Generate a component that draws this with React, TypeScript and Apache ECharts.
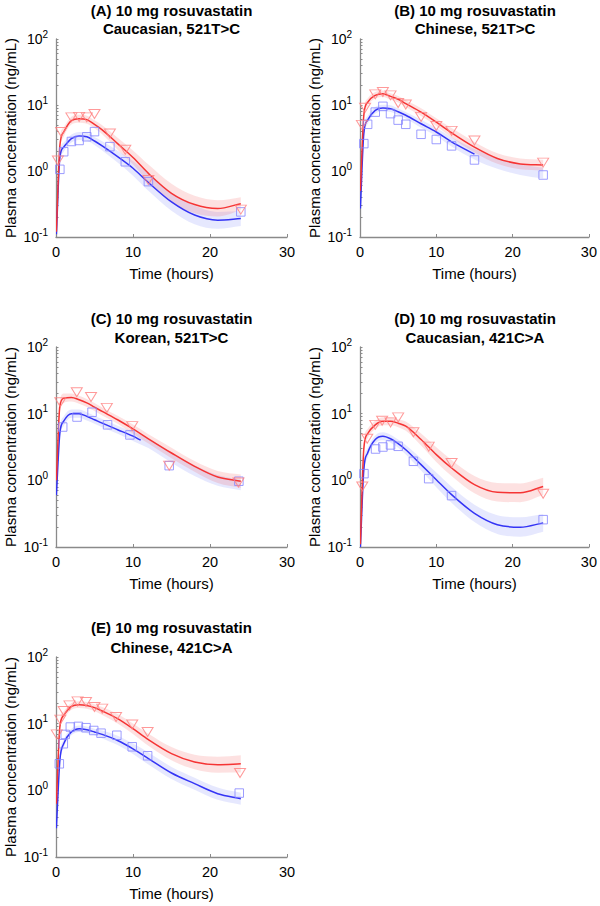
import React, { useEffect, useRef } from "react";
import * as echarts from "echarts";

// ---- shared grids / ticks ----
const TIME = [0.05, 0.5, 1, 2, 3, 4, 5, 6, 8, 10, 12, 15, 18, 21, 24];
const X_MIN = 0;
const X_MAX = 30;
const X_INTERVAL = 10;
const Y_TICKS = [0.1, 1, 10, 100];
const Y_TICK_LABELS = ["-1", "0", "1", "2"];
const Y_TICK_POS = [
  0.1, 0.2, 0.3, 0.4, 0.5, 0.6, 0.7, 0.8, 0.9,
  1, 2, 3, 4, 5, 6, 7, 8, 9,
  10, 20, 30, 40, 50, 60, 70, 80, 90, 100,
];

// ---- titles ----
const TITLES_1 = [
  "(A) 10 mg rosuvastatin",
  "(B) 10 mg rosuvastatin",
  "(C) 10 mg rosuvastatin",
  "(D) 10 mg rosuvastatin",
  "(E) 10 mg rosuvastatin",
];
const TITLES_2 = [
  "Caucasian, 521T>C",
  "Chinese, 521T>C",
  "Korean, 521T>C",
  "Caucasian, 421C>A",
  "Chinese, 421C>A",
];

// ---- Panel A ----
const A_RED_MEAN = [0.12, 2.4, 3.9, 5.8, 6.2, 6.0, 5.1, 4.2, 2.6, 1.6, 0.92, 0.46, 0.31, 0.27, 0.32];
const A_RED_LO = [0.1, 1.9, 3.3, 5.05, 5.4, 5.2, 4.45, 3.6, 2.1, 1.25, 0.68, 0.33, 0.23, 0.205, 0.255];
const A_RED_HI = [0.14, 3.0, 4.6, 6.65, 7.1, 6.9, 5.85, 4.95, 3.2, 2.05, 1.25, 0.64, 0.42, 0.36, 0.4];
const A_BLUE_MEAN = [0.11, 1.6, 2.3, 3.1, 3.4, 3.3, 2.85, 2.4, 1.65, 1.1, 0.67, 0.34, 0.215, 0.18, 0.19];
const A_BLUE_LO = [0.09, 1.27, 1.96, 2.7, 2.96, 2.87, 2.48, 2.04, 1.34, 0.85, 0.5, 0.25, 0.156, 0.133, 0.147];
const A_BLUE_HI = [0.14, 2.0, 2.7, 3.56, 3.9, 3.79, 3.27, 2.82, 2.03, 1.42, 0.9, 0.47, 0.3, 0.24, 0.245];
const A_RED_OBS_T = [0.25, 0.67, 2, 3, 4, 5, 7, 9, 12, 24];
const A_RED_OBS = [1.44, 3.9, 6.5, 6.6, 6.5, 7.3, 3.7, 2.1, 0.73, 0.26];
const A_BLUE_OBS_T = [0.5, 1, 2, 3, 4, 5, 7, 9, 12, 24];
const A_BLUE_OBS = [1.06, 1.96, 2.8, 2.9, 3.3, 3.95, 2.34, 1.38, 0.69, 0.24];

// ---- Panel B ----
const B_RED_MEAN = [0.5, 7.0, 11, 14, 14.8, 13.5, 12.2, 10.5, 7.8, 5.5, 3.8, 2.3, 1.55, 1.28, 1.23];
const B_RED_LO = [0.4, 5.8, 9.6, 12.5, 13.2, 12.0, 10.9, 9.35, 6.8, 4.8, 3.23, 1.91, 1.29, 1.06, 1.02];
const B_RED_HI = [0.63, 8.4, 12.6, 15.7, 16.6, 15.1, 13.7, 11.8, 8.95, 6.3, 4.47, 2.76, 1.86, 1.54, 1.48];
const B_BLUE_MEAN = [0.27, 3.7, 5.9, 8.3, 9.0, 8.8, 7.9, 7.0, 5.2, 3.9, 2.77, 1.8, null, null, null];
const B_BLUE_LO = [0.21, 3.08, 5.14, 7.4, 8.0, 7.85, 7.05, 6.25, 4.53, 3.4, 2.36, 1.5, 1.08, 0.87, 0.77];
const B_BLUE_HI = [0.34, 4.45, 6.8, 9.3, 10.1, 9.9, 8.85, 7.85, 5.97, 4.48, 3.25, 2.16, 1.56, 1.26, 1.12];
const B_RED_OBS_T = [0.25, 0.67, 2, 3, 4, 5, 6, 8, 10, 12, 15, 24];
const B_RED_OBS = [5.0, 9.1, 14.5, 15.7, 14, 10.7, 10.2, 6.6, 4.8, 4.05, 2.9, 1.34];
const B_BLUE_OBS_T = [0.5, 1, 2, 3, 4, 5, 6, 8, 10, 12, 15, 24];
const B_BLUE_OBS = [2.6, 5.1, 7.8, 9.55, 7.4, 5.9, 5.1, 3.6, 3.0, 2.4, 1.47, 0.87];

// ---- Panel C ----
const C_RED_MEAN = [1.0, 13, 17, 17.5, 16.2, 14.5, 12.5, 10.8, 8.1, 5.9, 4.2, 2.57, 1.62, 1.12, 0.97];
const C_RED_LO = [0.8, 10.8, 14.5, 15.2, 14.1, 12.6, 11.0, 9.4, 7.05, 5.0, 3.57, 2.14, 1.35, 0.91, 0.77];
const C_RED_HI = [1.26, 15.6, 20, 20.1, 18.6, 16.6, 14.5, 12.4, 9.3, 6.9, 4.93, 3.09, 1.95, 1.38, 1.22];
const C_BLUE_LINE_T = [0.05, 0.5, 1, 2, 3, 4, 5, 6, 8, 10, 11];
const C_BLUE_MEAN = [0.6, 5.1, 7.7, 10, 10, 9.1, 8.1, 7.2, 5.75, 4.6, 4.0];
const C_BLUE_LO = [0.45, 4.25, 6.55, 8.7, 8.7, 7.9, 7.05, 6.25, 5.0, 3.9, 3.05, 1.83, 1.16, 0.83, 0.71];
const C_BLUE_HI = [0.8, 6.1, 9.05, 11.5, 11.5, 10.5, 9.3, 8.3, 6.6, 5.4, 4.23, 2.64, 1.68, 1.2, 1.02];
const C_RED_OBS_T = [0.56, 2.7, 4.55, 6.6, 9.9, 14.7, 23.7];
const C_RED_OBS = [14.8, 20.9, 17.8, 12.2, 6.5, 1.66, 0.93];
const C_BLUE_OBS_T = [0.87, 2.73, 4.68, 6.7, 9.6, 14.7, 23.75];
const C_BLUE_OBS = [6.3, 8.9, 10.5, 6.8, 4.8, 1.66, 0.97];

// ---- Panel D ----
const D_RED_MEAN = [0.11, 3.0, 5.0, 6.8, 7.7, 7.7, 7.2, 6.5, 4.1, 2.43, 1.53, 0.86, 0.66, 0.65, 0.81];
const D_RED_LO = [0.09, 2.38, 4.25, 5.9, 6.7, 6.7, 6.27, 5.53, 3.33, 1.89, 1.16, 0.64, 0.48, 0.47, 0.6];
const D_RED_HI = [0.14, 3.78, 5.9, 7.8, 8.85, 8.85, 8.27, 7.64, 5.04, 3.13, 2.02, 1.16, 0.91, 0.9, 1.09];
const D_BLUE_MEAN = [0.1, 1.45, 2.57, 4.1, 4.57, 4.2, 3.55, 2.88, 1.72, 1.02, 0.61, 0.32, 0.216, 0.198, 0.23];
const D_BLUE_LO = [0.08, 1.15, 2.19, 3.57, 3.98, 3.66, 3.09, 2.45, 1.4, 0.79, 0.46, 0.237, 0.157, 0.143, 0.17];
const D_BLUE_HI = [0.13, 1.83, 3.02, 4.7, 5.25, 4.82, 4.08, 3.38, 2.12, 1.31, 0.8, 0.43, 0.3, 0.28, 0.31];
const D_RED_OBS_T = [0.3, 0.95, 2, 2.9, 4, 5, 7, 9, 12, 24];
const D_RED_OBS = [0.81, 4.2, 6.8, 7.85, 7.4, 8.8, 5.25, 3.2, 1.82, 0.63];
const D_BLUE_OBS_T = [0.52, 2.04, 3, 4, 5, 7, 9, 12, 24];
const D_BLUE_OBS = [1.26, 2.95, 3.16, 3.4, 3.24, 1.93, 1.06, 0.59, 0.257];

// ---- Panel E ----
const E_RED_MEAN = [0.63, 8.9, 13.3, 18.2, 19.3, 18.8, 17.4, 15.5, 11.9, 8.4, 5.75, 3.55, 2.66, 2.43, 2.5];
const E_RED_LO = [0.5, 7.4, 11.6, 16.2, 17.2, 16.8, 15.5, 13.5, 10.1, 7.0, 4.67, 2.82, 2.07, 1.84, 1.85];
const E_RED_HI = [0.79, 10.7, 15.3, 20.4, 21.7, 21.1, 19.5, 17.8, 14.0, 10.1, 7.08, 4.47, 3.42, 3.2, 3.37];
const E_BLUE_MEAN = [0.27, 2.8, 5.0, 7.5, 8.4, 8.1, 7.5, 6.9, 5.6, 4.2, 3.0, 1.82, 1.26, 0.89, 0.75];
const E_BLUE_LO = [0.21, 2.33, 4.35, 6.7, 7.5, 7.2, 6.7, 6.0, 4.77, 3.5, 2.44, 1.48, 1.02, 0.72, 0.61];
const E_BLUE_HI = [0.34, 3.36, 5.74, 8.4, 9.4, 9.1, 8.4, 7.9, 6.6, 5.03, 3.7, 2.24, 1.55, 1.1, 0.92];
const E_RED_OBS_T = [0.1, 0.56, 1, 1.75, 2.8, 3.9, 5, 6, 7.8, 9.9, 11.9, 23.9];
const E_RED_OBS = [6.9, 11.5, 15.5, 18.8, 21.6, 21.1, 17.8, 16.8, 12.6, 9.7, 7.5, 1.82];
const E_BLUE_OBS_T = [0.43, 0.95, 1.2, 1.86, 2.9, 3.9, 4.9, 5.85, 7.9, 9.9, 11.9, 23.8];
const E_BLUE_OBS = [2.5, 5.0, 6.9, 8.9, 9.1, 8.7, 7.9, 7.2, 6.7, 4.5, 3.3, 0.91];

// ---- styling ----
const FONT = "'Liberation Sans', Arial, Helvetica, sans-serif";
const AXIS_COLOR = "#8a8a8a";
const RED_LINE = "#f53434";
const BLUE_LINE = "#3434f5";
const RED_MARK = "#ff8080";
const BLUE_MARK = "#8585ff";
const RED_BAND = "rgba(245, 70, 70, 0.16)";
const BLUE_BAND = "rgba(80, 95, 245, 0.14)";

const GRIDS = [
  { left: 56, top: 39, width: 231, height: 198 },
  { left: 360, top: 39, width: 230, height: 198 },
  { left: 56, top: 347, width: 231, height: 200 },
  { left: 360, top: 347, width: 230, height: 200 },
  { left: 56, top: 657, width: 231, height: 200 },
];
const TITLE_Y = [
  [10, 28],
  [10, 28],
  [318, 337.5],
  [318, 337.5],
  [627.5, 647],
];

const PANELS = [
  {
    redMean: A_RED_MEAN, redLo: A_RED_LO, redHi: A_RED_HI,
    blueT: TIME, blueMean: A_BLUE_MEAN, blueLo: A_BLUE_LO, blueHi: A_BLUE_HI,
    redObsT: A_RED_OBS_T, redObs: A_RED_OBS, blueObsT: A_BLUE_OBS_T, blueObs: A_BLUE_OBS,
  },
  {
    redMean: B_RED_MEAN, redLo: B_RED_LO, redHi: B_RED_HI,
    blueT: TIME, blueMean: B_BLUE_MEAN, blueLo: B_BLUE_LO, blueHi: B_BLUE_HI,
    redObsT: B_RED_OBS_T, redObs: B_RED_OBS, blueObsT: B_BLUE_OBS_T, blueObs: B_BLUE_OBS,
  },
  {
    redMean: C_RED_MEAN, redLo: C_RED_LO, redHi: C_RED_HI,
    blueT: C_BLUE_LINE_T, blueMean: C_BLUE_MEAN, blueLo: C_BLUE_LO, blueHi: C_BLUE_HI,
    redObsT: C_RED_OBS_T, redObs: C_RED_OBS, blueObsT: C_BLUE_OBS_T, blueObs: C_BLUE_OBS,
  },
  {
    redMean: D_RED_MEAN, redLo: D_RED_LO, redHi: D_RED_HI,
    blueT: TIME, blueMean: D_BLUE_MEAN, blueLo: D_BLUE_LO, blueHi: D_BLUE_HI,
    redObsT: D_RED_OBS_T, redObs: D_RED_OBS, blueObsT: D_BLUE_OBS_T, blueObs: D_BLUE_OBS,
  },
  {
    redMean: E_RED_MEAN, redLo: E_RED_LO, redHi: E_RED_HI,
    blueT: TIME, blueMean: E_BLUE_MEAN, blueLo: E_BLUE_LO, blueHi: E_BLUE_HI,
    redObsT: E_RED_OBS_T, redObs: E_RED_OBS, blueObsT: E_BLUE_OBS_T, blueObs: E_BLUE_OBS,
  },
];

function pairs(ts: number[], vs: (number | null)[]) {
  return ts.map((t, i) => [t, vs[i] == null ? null : vs[i]]);
}

type Pt = number[];
type Seg = { p0: Pt; c1: Pt; c2: Pt; p1: Pt };

// Monotone (Fritsch–Carlson) cubic segments through pixel points, x increasing.
function monotoneSegments(pts: Pt[]): Seg[] {
  const n = pts.length;
  if (n < 2) return [];
  const dx: number[] = [];
  const s: number[] = [];
  for (let k = 0; k < n - 1; k++) {
    dx.push(pts[k + 1][0] - pts[k][0]);
    s.push((pts[k + 1][1] - pts[k][1]) / (dx[k] || 1e-6));
  }
  const m: number[] = new Array(n).fill(0);
  m[0] = s[0];
  m[n - 1] = s[n - 2];
  for (let k = 1; k < n - 1; k++) {
    m[k] = s[k - 1] * s[k] <= 0 ? 0 : (s[k - 1] + s[k]) / 2;
  }
  for (let k = 0; k < n - 1; k++) {
    if (s[k] === 0) {
      m[k] = 0;
      m[k + 1] = 0;
      continue;
    }
    const a = m[k] / s[k];
    const b = m[k + 1] / s[k];
    const h = a * a + b * b;
    if (h > 9) {
      const t = 3 / Math.sqrt(h);
      m[k] = t * a * s[k];
      m[k + 1] = t * b * s[k];
    }
  }
  const segs: Seg[] = [];
  for (let k = 0; k < n - 1; k++) {
    const d = dx[k] / 3;
    segs.push({
      p0: pts[k],
      c1: [pts[k][0] + d, pts[k][1] + m[k] * d],
      c2: [pts[k + 1][0] - d, pts[k + 1][1] - m[k + 1] * d],
      p1: pts[k + 1],
    });
  }
  return segs;
}

const f = (v: number) => v.toFixed(2);

function forwardPath(segs: Seg[], start: boolean) {
  let d = start ? `M${f(segs[0].p0[0])},${f(segs[0].p0[1])}` : `L${f(segs[0].p0[0])},${f(segs[0].p0[1])}`;
  segs.forEach((g) => {
    d += `C${f(g.c1[0])},${f(g.c1[1])} ${f(g.c2[0])},${f(g.c2[1])} ${f(g.p1[0])},${f(g.p1[1])}`;
  });
  return d;
}

function backwardPath(segs: Seg[]) {
  const last = segs[segs.length - 1];
  let d = `L${f(last.p1[0])},${f(last.p1[1])}`;
  for (let i = segs.length - 1; i >= 0; i--) {
    const g = segs[i];
    d += `C${f(g.c2[0])},${f(g.c2[1])} ${f(g.c1[0])},${f(g.c1[1])} ${f(g.p0[0])},${f(g.p0[1])}`;
  }
  return d;
}

function bandSeries(idx: number, lo: number[], hi: number[], color: string) {
  return {
    type: "custom",
    xAxisIndex: idx,
    yAxisIndex: idx,
    coordinateSystem: "cartesian2d",
    clip: true,
    silent: true,
    z: 1,
    data: [[TIME[0], hi[0]]],
    renderItem: (_params: any, api: any) => {
      const up = TIME.map((t, i) => api.coord([t, hi[i]]));
      const dn = TIME.map((t, i) => api.coord([t, lo[i]]));
      const d = forwardPath(monotoneSegments(up), true) + backwardPath(monotoneSegments(dn)) + "Z";
      return {
        type: "path",
        shape: { pathData: d },
        style: { fill: color, stroke: "none" },
      };
    },
  };
}

function lineSeries(idx: number, ts: number[], vs: (number | null)[], color: string) {
  return {
    type: "custom",
    xAxisIndex: idx,
    yAxisIndex: idx,
    coordinateSystem: "cartesian2d",
    clip: true,
    silent: true,
    z: 3,
    data: [[ts[0], vs[0]]],
    renderItem: (_params: any, api: any) => {
      const pts: Pt[] = [];
      ts.forEach((t, i) => {
        const v = vs[i];
        if (v != null) pts.push(api.coord([t, v]));
      });
      const d = forwardPath(monotoneSegments(pts), true);
      return {
        type: "path",
        shape: { pathData: d },
        style: { fill: "none", stroke: color, lineWidth: 1.5, lineJoin: "round" },
      };
    },
  };
}

function buildOption() {
  const grid: any[] = [];
  const xAxis: any[] = [];
  const yAxis: any[] = [];
  const series: any[] = [];
  const graphic: any[] = [];

  GRIDS.forEach((g, idx) => {
    grid.push({ ...g, containLabel: false });
    xAxis.push({
      gridIndex: idx,
      type: "value",
      min: X_MIN,
      max: X_MAX,
      interval: X_INTERVAL,
      name: "Time (hours)",
      nameLocation: "middle",
      nameGap: 29,
      nameTextStyle: { fontSize: 15, color: "#000", fontFamily: FONT },
      axisLine: { show: true, onZero: false, lineStyle: { color: AXIS_COLOR, width: 1.3 } },
      axisTick: { show: true, inside: true, length: 3, lineStyle: { color: AXIS_COLOR, width: 1 } },
      axisLabel: { fontSize: 14.5, color: "#000", margin: 7, fontFamily: FONT },
      splitLine: { show: false },
    });
    yAxis.push({
      gridIndex: idx,
      type: "log",
      logBase: 10,
      min: 0.1,
      max: 100,
      name: "Plasma concentration (ng/mL)",
      nameLocation: "middle",
      nameGap: 38,
      nameTextStyle: { fontSize: 15, color: "#000", fontFamily: FONT },
      axisLine: { show: true, onZero: false, lineStyle: { color: AXIS_COLOR, width: 1.3 } },
      axisTick: {
        show: true,
        inside: true,
        length: 2.5,
        customValues: Y_TICK_POS,
        lineStyle: { color: AXIS_COLOR, width: 1 },
      },
      axisLabel: {
        customValues: Y_TICKS,
        margin: 8,
        formatter: (v: number) => {
          let k = 0;
          let best = Infinity;
          Y_TICKS.forEach((tv, i) => {
            const dd = Math.abs(Math.log10(tv) - Math.log10(v));
            if (dd < best) { best = dd; k = i; }
          });
          return "{b|10}{s|" + Y_TICK_LABELS[k] + "}";
        },
        rich: {
          b: { fontSize: 14, lineHeight: 20, color: "#000", fontFamily: FONT },
          s: { fontSize: 10, lineHeight: 11, color: "#000", fontFamily: FONT, verticalAlign: "top" },
        },
      },
      splitLine: { show: false },
    });

    const p = PANELS[idx];
    series.push(bandSeries(idx, p.blueLo, p.blueHi, BLUE_BAND));
    series.push(bandSeries(idx, p.redLo, p.redHi, RED_BAND));
    series.push(lineSeries(idx, p.blueT, p.blueMean, BLUE_LINE));
    series.push(lineSeries(idx, TIME, p.redMean, RED_LINE));
    series.push({
      type: "scatter",
      xAxisIndex: idx,
      yAxisIndex: idx,
      data: pairs(p.blueObsT, p.blueObs),
      symbol: "rect",
      symbolSize: 8.5,
      itemStyle: { color: "rgba(0,0,0,0)", borderColor: BLUE_MARK, borderWidth: 1 },
      silent: true,
      z: 4,
    });
    series.push({
      type: "scatter",
      xAxisIndex: idx,
      yAxisIndex: idx,
      data: pairs(p.redObsT, p.redObs),
      symbol: "triangle",
      symbolRotate: 180,
      symbolSize: [11, 9],
      itemStyle: { color: "rgba(0,0,0,0)", borderColor: RED_MARK, borderWidth: 1 },
      silent: true,
      z: 5,
    });

    const cx = g.left + g.width / 2;
    [TITLES_1[idx], TITLES_2[idx]].forEach((txt, j) => {
      graphic.push({
        type: "text",
        x: cx,
        y: TITLE_Y[idx][j],
        silent: true,
        style: {
          text: txt,
          fill: "#000",
          fontSize: 15,
          fontWeight: "bold",
          fontFamily: FONT,
          align: "center",
          verticalAlign: "middle",
          textAlign: "center",
          textVerticalAlign: "middle",
        },
      });
    });
  });

  return {
    animation: false,
    backgroundColor: "#ffffff",
    textStyle: { fontFamily: FONT },
    grid,
    xAxis,
    yAxis,
    series,
    graphic,
  };
}

export default function App() {
  const ref = useRef<HTMLDivElement>(null);
  useEffect(() => {
    if (!ref.current) return;
    const chart = echarts.init(ref.current, undefined, { renderer: "svg" });
    chart.setOption(buildOption() as any);
    return () => chart.dispose();
  }, []);
  return (
    <div
      ref={ref}
      style={{ position: "fixed", left: 0, top: 0, width: 600, height: 906, background: "#fff" }}
    />
  );
}
